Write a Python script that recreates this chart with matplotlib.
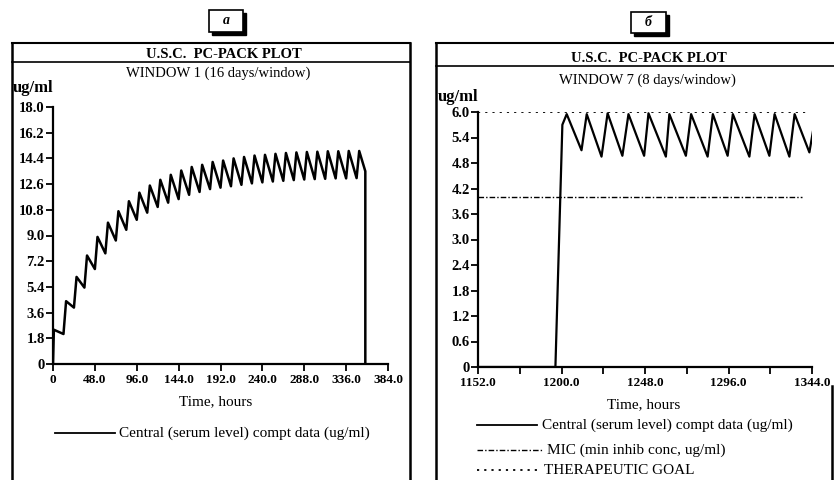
import matplotlib
matplotlib.use("Agg")
import matplotlib.pyplot as plt
from matplotlib.lines import Line2D
from matplotlib.patches import Rectangle

plt.rcParams['font.family'] = ['Liberation Serif', 'DejaVu Serif']

W, H = 834, 480

# --- panel a: WINDOW 1, 12 h dosing, accumulation to steady state
left_peak_t = [1, 15, 27, 39, 51, 63, 75, 87, 99, 111, 123, 135, 147, 159, 171,
               183, 195, 207, 219, 231, 243, 255, 267, 279, 291, 303, 315, 327, 339, 351]
left_peak_v = [2.4, 4.4, 6.1, 7.6, 8.9, 9.9, 10.7, 11.4, 12.0, 12.5, 12.9, 13.25, 13.55, 13.8, 13.95,
               14.15, 14.25, 14.4, 14.5, 14.6, 14.65, 14.72, 14.78, 14.82, 14.85, 14.87, 14.9, 14.9, 14.92, 14.92]
left_trough_t = [12, 24, 36, 48, 60, 72, 84, 96, 108, 120, 132, 144, 156, 168, 180,
                 192, 204, 216, 228, 240, 252, 264, 276, 288, 300, 312, 324, 336, 348]
left_trough_v = [2.1, 3.95, 5.35, 6.65, 7.75, 8.65, 9.4, 10.1, 10.6, 11.0, 11.3, 11.55, 11.85, 12.05, 12.25,
                 12.35, 12.45, 12.55, 12.65, 12.72, 12.78, 12.83, 12.88, 12.92, 12.95, 12.97, 13.0, 13.0, 13.02]
left_start_t, left_start_v = [0], [0]
left_end_t, left_end_v = [358, 358], [13.5, 0]
left_xticks = [0, 48, 96, 144, 192, 240, 288, 336, 384]
left_xlabels = ["0", "48.0", "96.0", "144.0", "192.0", "240.0", "288.0", "336.0", "384.0"]
left_yticks = [0, 1.8, 3.6, 5.4, 7.2, 9.0, 10.8, 12.6, 14.4, 16.2, 18.0]
left_ylabels = ["0", "1.8", "3.6", "5.4", "7.2", "9.0", "10.8", "12.6", "14.4", "16.2", "18.0"]

# --- panel b: WINDOW 7
right_t = [1152, 1196.5, 1200.5, 1203, 1211.5, 1214.5, 1223, 1226.5, 1235, 1238.5, 1247.5, 1250,
           1260, 1262, 1271.5, 1274.5, 1284, 1287, 1295.5, 1298.5, 1308, 1311, 1319.5, 1322.5,
           1331, 1334, 1342.5, 1346]
right_v = [0, 0, 5.7, 5.95, 5.1, 5.95, 4.95, 5.97, 4.97, 5.95, 4.97, 5.97,
           4.95, 5.95, 4.97, 5.95, 4.95, 5.95, 4.97, 5.95, 4.95, 5.95, 4.97, 5.95,
           4.95, 5.95, 5.05, 5.9]
mic_level, mic_span = 4.0, [1152, 1338]
goal_level, goal_span = 6.0, [1152, 1341]
right_xticks = [1152, 1200, 1248, 1296, 1344]
right_xlabels = ["1152.0", "1200.0", "1248.0", "1296.0", "1344.0"]
right_xminor = [1176, 1224, 1272, 1320]
right_yticks = [0, 0.6, 1.2, 1.8, 2.4, 3.0, 3.6, 4.2, 4.8, 5.4, 6.0]
right_ylabels = ["0", "0.6", "1.2", "1.8", "2.4", "3.0", "3.6", "4.2", "4.8", "5.4", "6.0"]

legend_central = "Central (serum level) compt data (ug/ml)"
legend_mic = "MIC (min inhib conc, ug/ml)"
legend_goal = "THERAPEUTIC GOAL"


def fx(x):
    return x / W


def fy(y):
    return 1 - y / H


def px_line(fig, x0, x1, y0, y1, **kw):
    fig.add_artist(Line2D([fx(x0), fx(x1)], [fy(y0), fy(y1)], transform=fig.transFigure, color="black", **kw))


def px_text(fig, x, y, s, **kw):
    fig.text(fx(x), fy(y), s, transform=fig.transFigure, **kw)


def tag_box(fig, x0, y0, x1, y1, label):
    fig.add_artist(Rectangle((fx(x0 + 3), fy(y1 + 3)), fx(x1 - x0), (y1 - y0) / H,
                             transform=fig.transFigure, facecolor="black", edgecolor="black"))
    fig.add_artist(Rectangle((fx(x0), fy(y1)), fx(x1 - x0), (y1 - y0) / H,
                             transform=fig.transFigure, facecolor="white", edgecolor="black", lw=1.2))
    px_text(fig, (x0 + x1) / 2, (y0 + y1) / 2, label, ha="center", va="center",
            fontsize=10, style="italic", fontweight="bold")


def style_axes(ax):
    for side in ["top", "right"]:
        ax.spines[side].set_visible(False)
    for side in ["left", "bottom"]:
        ax.spines[side].set_linewidth(1.6)
    ax.tick_params(direction="out", length=5, width=1.3, pad=1)
    ax.tick_params(axis="x", labelsize=9.5, pad=2)
    ax.tick_params(axis="y", labelsize=10.5)
    ax.tick_params(which="minor", direction="out", length=5, width=1.3)
    for lab in ax.get_xticklabels() + ax.get_yticklabels():
        lab.set_fontweight("bold")


fig = plt.figure(figsize=(W / 100, H / 100), dpi=100)

# frames
px_line(fig, 12, 410, 43, 43, lw=1.5)
px_line(fig, 12, 410, 62, 62, lw=1.2)
px_line(fig, 12, 12, 43, 480, lw=1.8)
px_line(fig, 410, 410, 43, 480, lw=1.8)
px_line(fig, 436, 834, 43, 43, lw=1.5)
px_line(fig, 436, 834, 66, 66, lw=1.2)
px_line(fig, 436, 436, 43, 480, lw=1.8)
px_line(fig, 832, 832, 386, 480, lw=1.8)

tag_box(fig, 209, 10, 243, 32, "а")
tag_box(fig, 631, 12, 666, 33, "б")

# panel a
axl = fig.add_axes([fx(53), fy(364), fx(335), 257 / H])
lt, lv = list(left_start_t), list(left_start_v)
lt.append(left_peak_t[0])
lv.append(left_peak_v[0])
for i in range(len(left_trough_t)):
    lt += [left_trough_t[i], left_peak_t[i + 1]]
    lv += [left_trough_v[i], left_peak_v[i + 1]]
lt += left_end_t
lv += left_end_v
axl.plot(lt, lv, color="black", lw=1.8)
axl.set_xlim(0, 384)
axl.set_ylim(0, 18)
axl.set_xticks(left_xticks)
axl.set_xticklabels(left_xlabels)
axl.set_yticks(left_yticks)
axl.set_yticklabels(left_ylabels)
style_axes(axl)

px_text(fig, 224, 55, "U.S.C.  PC-PACK PLOT", ha="center", va="center", fontsize=10.5, fontweight="bold")
px_text(fig, 218, 73, "WINDOW 1 (16 days/window)", ha="center", va="center", fontsize=10.5)
px_text(fig, 13, 88, "ug/ml", ha="left", va="center", fontsize=12, fontweight="bold")
px_text(fig, 216, 402, "Time, hours", ha="center", va="center", fontsize=11)
px_line(fig, 55, 115, 433, 433, lw=1.3)
px_text(fig, 119, 433, legend_central, ha="left", va="center", fontsize=11)

# panel b
axr = fig.add_axes([fx(478), fy(367), fx(334), 255 / H])
axr.plot(right_t, right_v, color="black", lw=1.6)
axr.plot(mic_span, [mic_level, mic_level], color="black", lw=1.0, ls=(0, (4, 1.5, 1, 1.5)))
axr.plot(goal_span, [goal_level, goal_level], color="black", lw=1.3, ls=(0, (1.2, 2.8)))
axr.set_xlim(1152, 1344)
axr.set_ylim(0, 6)
axr.set_xticks(right_xticks)
axr.set_xticklabels(right_xlabels)
axr.set_xticks(right_xminor, minor=True)
axr.set_yticks(right_yticks)
axr.set_yticklabels(right_ylabels)
style_axes(axr)

px_text(fig, 649, 58, "U.S.C.  PC-PACK PLOT", ha="center", va="center", fontsize=10.5, fontweight="bold")
px_text(fig, 647, 80, "WINDOW 7 (8 days/window)", ha="center", va="center", fontsize=10.5)
px_text(fig, 438, 97, "ug/ml", ha="left", va="center", fontsize=12, fontweight="bold")
px_text(fig, 644, 405, "Time, hours", ha="center", va="center", fontsize=11)
px_line(fig, 477, 537, 425, 425, lw=1.3)
px_text(fig, 542, 425, legend_central, ha="left", va="center", fontsize=11)
px_line(fig, 477, 543, 450, 450, lw=1.0, ls=(0, (4, 1.5, 1, 1.5)))
px_text(fig, 547, 450, legend_mic, ha="left", va="center", fontsize=11)
px_line(fig, 477, 539, 470, 470, lw=1.3, ls=(0, (1.2, 2.8)))
px_text(fig, 544, 470, legend_goal, ha="left", va="center", fontsize=11)

fig.savefig("out.png", dpi=100, facecolor="white")
